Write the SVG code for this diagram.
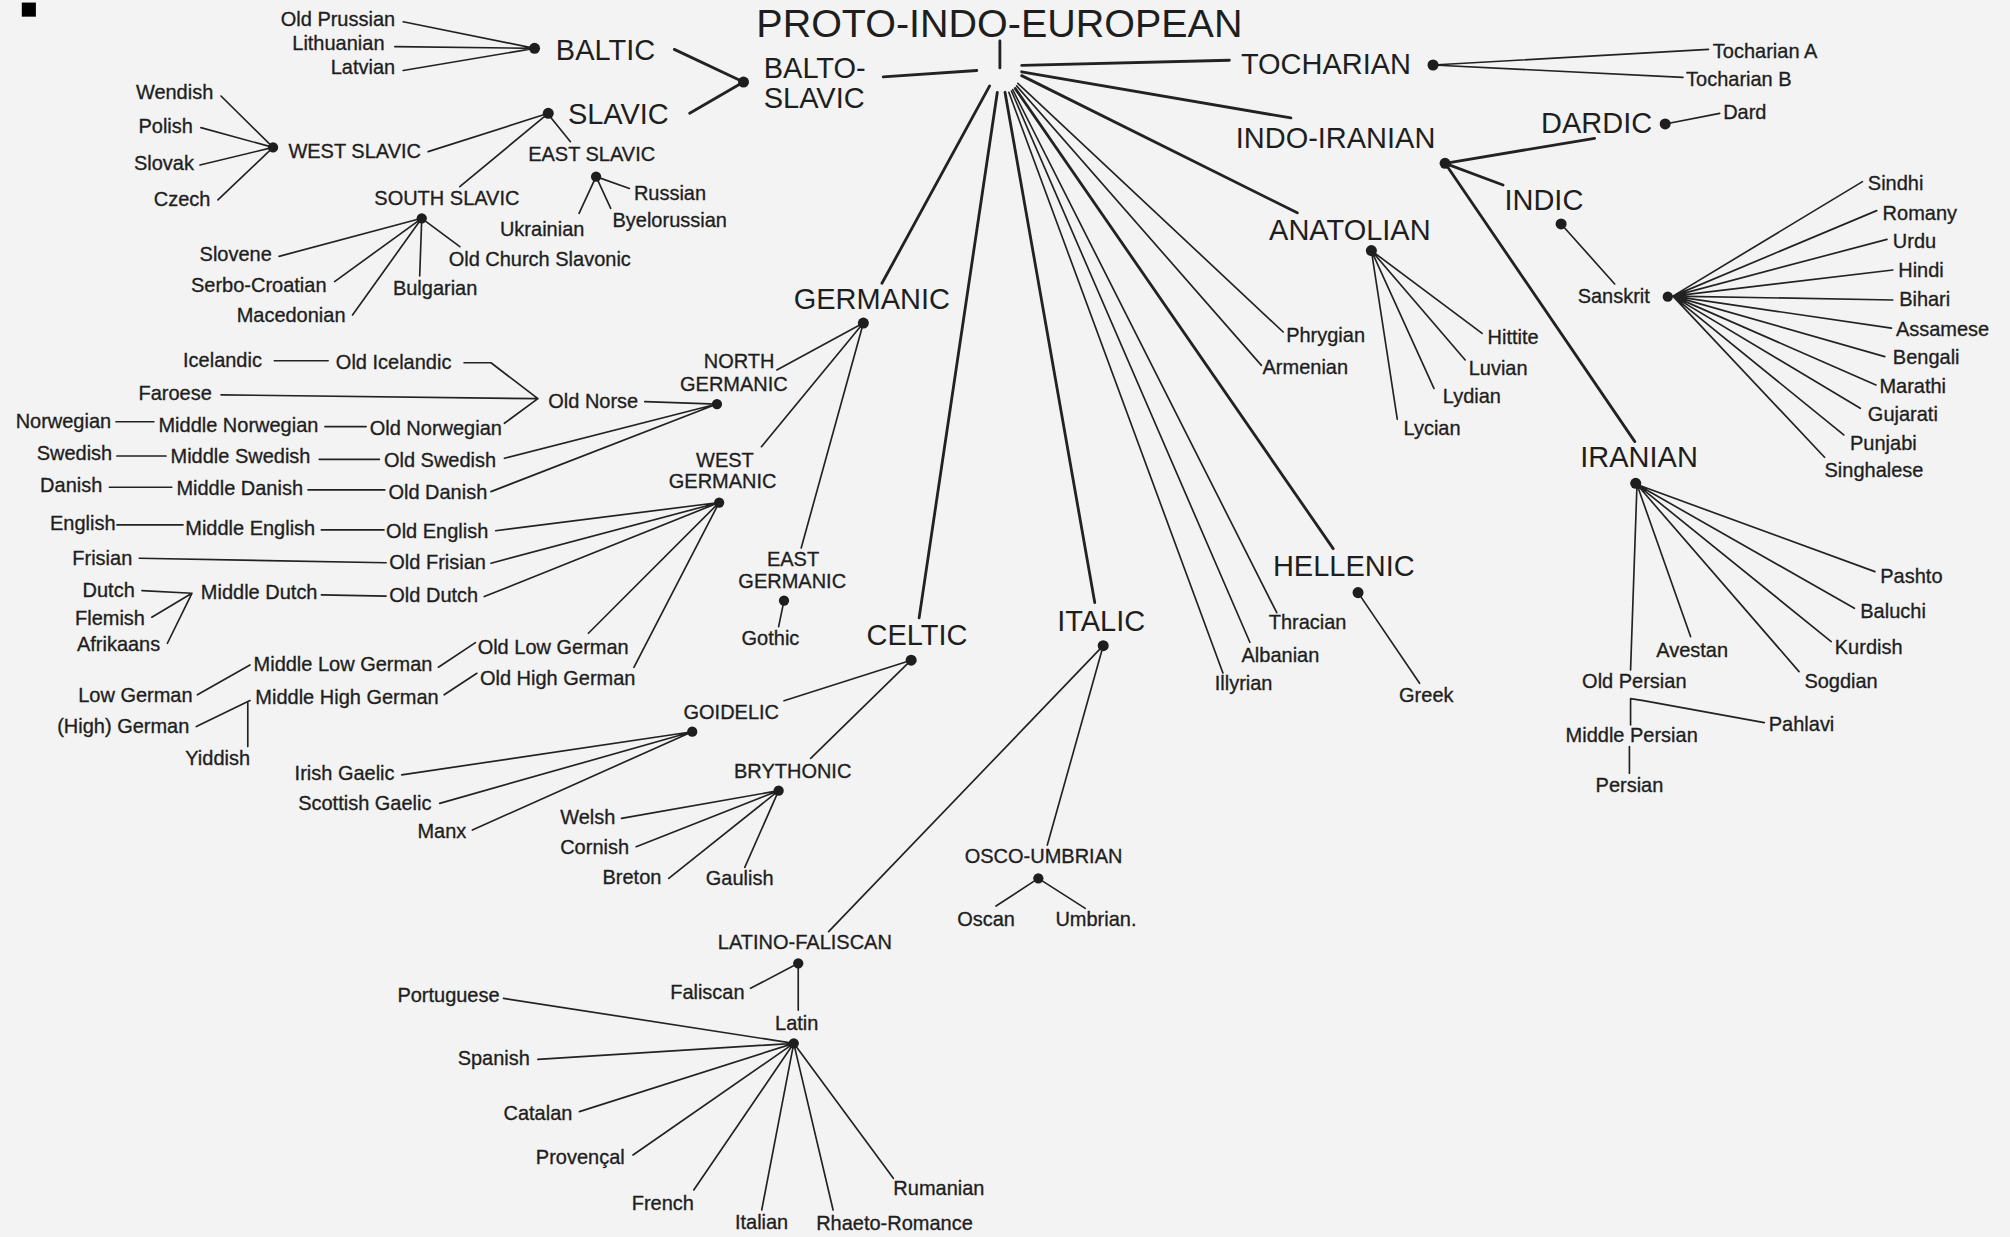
<svg xmlns="http://www.w3.org/2000/svg" width="2010" height="1237" viewBox="0 0 2010 1237">
<style>
text{font-family:"Liberation Sans",Arial,Helvetica,sans-serif;fill:#1e1e1e}
.s{font-size:15.6px;stroke:#1e1e1e;stroke-width:0.25px}
.b{font-size:22.6px}
.t{font-size:30.8px}
#connectors path{fill:none;stroke:#222;stroke-width:1.3;stroke-linecap:round;stroke-linejoin:round}
#connectors path.k{stroke-width:2.2}
circle.d{fill:#1e1e1e}
</style>
<rect width="2010" height="1237" fill="#f3f3f3"/>
<g transform="scale(1.2819)">
<rect x="17" y="2" width="11" height="11" fill="#000"/>
<g id="connectors">
<path class="k" d="M780,32V53"/>
<path class="k" d="M762,55L689,60"/>
<path class="k" d="M797,51L959,47"/>
<path class="k" d="M797,56L1007,92"/>
<path class="k" d="M797,59L1012,166"/>
<path d="M794,65L1001,259"/>
<path d="M793,67L984,285"/>
<path class="k" d="M792,69L1040,428"/>
<path d="M790,70L996,478"/>
<path d="M789,71L975,501"/>
<path d="M787,72L954,525"/>
<path class="k" d="M784,72L854,470"/>
<path class="k" d="M778,72L717,482"/>
<path class="k" d="M772,67L688,221"/>
<path class="k" d="M526,38.5L580,64L538,88.4"/>
<path d="M314.5,17L417,37.7M308,36.4L417,37.7M314.5,55L417,37.7"/>
<path d="M427.7,88.4L334,118.3M427.7,88.4L358.7,145.6M430,92L445,110.5"/>
<path d="M172.4,74.9L213,115M156.7,99.6L213,115M156,128.7L213,115M170,156L213,115"/>
<path d="M465,137.8L491,147M465,137.8L476.4,162.5M465,137.8L451.7,166.4"/>
<path d="M329,170.3L217.7,200M329,170.3L261,219.7M329,170.3L275,245.7M329,170.3L327.4,215.3M329,170.3L358.7,192.4"/>
<path d="M673.5,252L606,288.6M673.5,252L594,348.5M673.5,252L625,427.5M611.6,468.5L607.4,488.8"/>
<path d="M214,281.4H256M362,283H383L419.6,311L393.5,330.2M172.4,308L419.6,311M503,313.3L559.3,315.2M393.5,357.5L559.3,315.2M383,383.5L559.3,315.2"/>
<path d="M90.5,329H120M253.5,332.8H285.6M91.2,355.7H129.5M249,358.3H296M85.3,380.1H134M240.3,382.2H300.2"/>
<path d="M386.6,414L561,392M383,439.4L561,392M377.8,465.4L561,392M459,494L561,392M494.5,520.6L561,392"/>
<path d="M91.2,409.5H142.8M250.7,413.4H299.5M108.6,435.5L301.2,439M110.7,460.7L149.7,462.8L118.4,481.5M149.7,462.8L130.6,501.8M250.7,464.1L301.2,465"/>
<path d="M154,542L195,518.7M342,520.5L370.9,501.3M153.2,566.8L195,546.5M193.3,547.3V582.4M346.5,542L372,525.2"/>
<path d="M710.8,515L611.6,546.6M710.8,515L632.4,591.6M540,570.8L313.4,604.5M540,570.8L343,626.7M540,570.8L368.5,647.5"/>
<path d="M607.4,616.8L484.8,638.4M607.4,616.8L496.3,660.5M607.4,616.8L521.7,685.2M607.4,616.8L581,676.6"/>
<path d="M860.6,503.7L817,659.2M860.6,503.7L646.4,726.8M810,685.2L777,706.8M810,685.2L846.6,708.6M622.7,751.5L585.5,771M622.7,751.5V788"/>
<path d="M619.2,813.9L392.8,778.8M619.2,813.9L419.6,826.4M619.2,813.9L452,867.2M619.2,813.9L493.8,901M619.2,813.9L541.2,928.3M619.2,813.9L594.2,943.9M619.2,813.9L649.9,943.9M619.2,813.9L696.9,919.2"/>
<path d="M1059.4,462.3L1107.4,533"/>
<path d="M1069.8,195.5L1156.2,260M1069.8,195.5L1143,280.8M1069.8,195.5L1118.6,303M1069.8,195.5L1090,327"/>
<path d="M1117.9,50.7L1332.8,38.5M1117.9,50.7L1312.9,60.3"/>
<path class="k" d="M1127.3,127.4L1243.9,107.9M1127.3,127.4L1172.5,144.3M1127.3,127.4L1275.3,344.5"/>
<path d="M1299,96.7L1341.5,88.4M1217.8,174.7L1259.6,221.5"/>
<path d="M1305,231L1452.9,141.7M1305,231L1464,164.3M1305,231L1472,186.7M1305,231L1476.6,210.6M1305,231L1476.6,234M1305,231L1475.5,256M1305,231L1470.3,278.2M1305,231L1463.4,300.3M1305,231L1451.2,318.5M1305,231L1438.3,339.3M1305,231L1423.3,356.7"/>
<path d="M1277,378L1462.6,445.9M1277,378L1446.6,474.5M1277,378L1428.5,500.5M1277,378L1403.4,523.9M1277,378L1318.8,496.6M1277,378L1272,522.6"/>
<path d="M1272,545V565.5M1272,545L1282,546.5L1376.3,563.7M1271.1,582.4V603.2"/>
</g>
<g id="n-pie"><text class="t" x="590" y="28.6">PROTO-INDO-EUROPEAN</text></g>
<g id="n-baltoslavic"><text class="b" x="595.8" y="61">BALTO-</text><text class="b" x="595.8" y="84.5">SLAVIC</text><circle class="d" cx="580" cy="64" r="4.3"/></g>
<g id="n-baltic"><text class="b" x="433.6" y="46.7">BALTIC</text><circle class="d" cx="417" cy="37.7" r="4.3"/></g>
<g id="n-oldprussian"><text class="s" x="219" y="20.5">Old Prussian</text></g>
<g id="n-lithuanian"><text class="s" x="228" y="39">Lithuanian</text></g>
<g id="n-latvian"><text class="s" x="258" y="58">Latvian</text></g>
<g id="n-slavic"><text class="b" x="443" y="96.5">SLAVIC</text><circle class="d" cx="427.7" cy="88.4" r="4.3"/></g>
<g id="n-westslavic"><text class="s" x="225" y="123">WEST SLAVIC</text><circle class="d" cx="213" cy="115" r="4"/></g>
<g id="n-wendish"><text class="s" x="106" y="77">Wendish</text></g>
<g id="n-polish"><text class="s" x="108" y="104">Polish</text></g>
<g id="n-slovak"><text class="s" x="104.5" y="133">Slovak</text></g>
<g id="n-czech"><text class="s" x="120" y="161">Czech</text></g>
<g id="n-eastslavic"><text class="s" x="412" y="125.7">EAST SLAVIC</text><circle class="d" cx="465" cy="137.8" r="4"/></g>
<g id="n-russian"><text class="s" x="494.5" y="155.7">Russian</text></g>
<g id="n-byelorussian"><text class="s" x="477.8" y="177">Byelorussian</text></g>
<g id="n-ukrainian"><text class="s" x="390" y="184">Ukrainian</text></g>
<g id="n-southslavic"><text class="s" x="292" y="160">SOUTH SLAVIC</text><circle class="d" cx="329" cy="170.3" r="4"/></g>
<g id="n-slovene"><text class="s" x="155.7" y="203.5">Slovene</text></g>
<g id="n-serbocroatian"><text class="s" x="149" y="227.5">Serbo-Croatian</text></g>
<g id="n-macedonian"><text class="s" x="184.6" y="251">Macedonian</text></g>
<g id="n-bulgarian"><text class="s" x="306.5" y="230">Bulgarian</text></g>
<g id="n-ocs"><text class="s" x="350" y="207.5">Old Church Slavonic</text></g>
<g id="n-germanic"><text class="b" x="619.2" y="241">GERMANIC</text><circle class="d" cx="673.5" cy="252" r="4.3"/></g>
<g id="n-northgermanic"><text class="s" x="549" y="287">NORTH</text><text class="s" x="530.5" y="305">GERMANIC</text><circle class="d" cx="559.3" cy="315.2" r="4"/></g>
<g id="n-icelandic"><text class="s" x="142.8" y="286">Icelandic</text></g>
<g id="n-oldicelandic"><text class="s" x="262" y="288">Old Icelandic</text></g>
<g id="n-faroese"><text class="s" x="108" y="312">Faroese</text></g>
<g id="n-oldnorse"><text class="s" x="427.7" y="318">Old Norse</text></g>
<g id="n-norwegian"><text class="s" x="12.2" y="334">Norwegian</text></g>
<g id="n-middlenorwegian"><text class="s" x="123.6" y="337">Middle Norwegian</text></g>
<g id="n-oldnorwegian"><text class="s" x="288.4" y="339">Old Norwegian</text></g>
<g id="n-swedish"><text class="s" x="28.6" y="359">Swedish</text></g>
<g id="n-middleswedish"><text class="s" x="133" y="361.5">Middle Swedish</text></g>
<g id="n-oldswedish"><text class="s" x="299.5" y="364">Old Swedish</text></g>
<g id="n-danish"><text class="s" x="31.3" y="383.5">Danish</text></g>
<g id="n-middledanish"><text class="s" x="137.6" y="386">Middle Danish</text></g>
<g id="n-olddanish"><text class="s" x="303" y="389">Old Danish</text></g>
<g id="n-westgermanic"><text class="s" x="543" y="364">WEST</text><text class="s" x="521.7" y="381">GERMANIC</text><circle class="d" cx="561" cy="392" r="4"/></g>
<g id="n-english"><text class="s" x="39" y="413.5">English</text></g>
<g id="n-middleenglish"><text class="s" x="144.5" y="417.5">Middle English</text></g>
<g id="n-oldenglish"><text class="s" x="301.2" y="419.5">Old English</text></g>
<g id="n-frisian"><text class="s" x="56.4" y="441">Frisian</text></g>
<g id="n-oldfrisian"><text class="s" x="303.7" y="443.5">Old Frisian</text></g>
<g id="n-dutch"><text class="s" x="64.4" y="465.5">Dutch</text></g>
<g id="n-middledutch"><text class="s" x="156.7" y="467.5">Middle Dutch</text></g>
<g id="n-olddutch"><text class="s" x="303.7" y="470">Old Dutch</text></g>
<g id="n-flemish"><text class="s" x="58.5" y="487.7">Flemish</text></g>
<g id="n-afrikaans"><text class="s" x="60" y="508">Afrikaans</text></g>
<g id="n-oldlowgerman"><text class="s" x="372.6" y="510">Old Low German</text></g>
<g id="n-middlelowgerman"><text class="s" x="197.8" y="523.5">Middle Low German</text></g>
<g id="n-lowgerman"><text class="s" x="61" y="547.5">Low German</text></g>
<g id="n-oldhighgerman"><text class="s" x="374.4" y="534.5">Old High German</text></g>
<g id="n-middlehighgerman"><text class="s" x="199.2" y="549">Middle High German</text></g>
<g id="n-highgerman"><text class="s" x="44.6" y="571.5">(High) German</text></g>
<g id="n-yiddish"><text class="s" x="144.5" y="596.5">Yiddish</text></g>
<g id="n-eastgermanic"><text class="s" x="598.3" y="441.2">EAST</text><text class="s" x="576" y="459">GERMANIC</text><circle class="d" cx="611.6" cy="468.5" r="4"/></g>
<g id="n-gothic"><text class="s" x="578.5" y="503">Gothic</text></g>
<g id="n-celtic"><text class="b" x="676" y="503.5">CELTIC</text><circle class="d" cx="710.8" cy="515" r="4.3"/></g>
<g id="n-goidelic"><text class="s" x="533.2" y="560.5">GOIDELIC</text><circle class="d" cx="540" cy="570.8" r="4"/></g>
<g id="n-irishgaelic"><text class="s" x="229.8" y="608.5">Irish Gaelic</text></g>
<g id="n-scottishgaelic"><text class="s" x="232.6" y="632">Scottish Gaelic</text></g>
<g id="n-manx"><text class="s" x="325.6" y="654">Manx</text></g>
<g id="n-brythonic"><text class="s" x="572.6" y="606.7">BRYTHONIC</text><circle class="d" cx="607.4" cy="616.8" r="4"/></g>
<g id="n-welsh"><text class="s" x="437" y="642.5">Welsh</text></g>
<g id="n-cornish"><text class="s" x="437" y="666">Cornish</text></g>
<g id="n-breton"><text class="s" x="470" y="689.3">Breton</text></g>
<g id="n-gaulish"><text class="s" x="550.6" y="690.5">Gaulish</text></g>
<g id="n-italic"><text class="b" x="824.7" y="492">ITALIC</text><circle class="d" cx="860.6" cy="503.7" r="4.3"/></g>
<g id="n-oscoumbrian"><text class="s" x="752.6" y="673.5">OSCO-UMBRIAN</text><circle class="d" cx="810" cy="685.2" r="4"/></g>
<g id="n-oscan"><text class="s" x="746.7" y="722">Oscan</text></g>
<g id="n-umbrian"><text class="s" x="823.3" y="722">Umbrian.</text></g>
<g id="n-latinofaliscan"><text class="s" x="560" y="740.3">LATINO-FALISCAN</text><circle class="d" cx="622.7" cy="751.5" r="4"/></g>
<g id="n-faliscan"><text class="s" x="522.8" y="779">Faliscan</text></g>
<g id="n-latin"><text class="s" x="604.6" y="803.6">Latin</text><circle class="d" cx="619.2" cy="813.9" r="4"/></g>
<g id="n-portuguese"><text class="s" x="310" y="782">Portuguese</text></g>
<g id="n-spanish"><text class="s" x="357" y="831">Spanish</text></g>
<g id="n-catalan"><text class="s" x="392.8" y="874">Catalan</text></g>
<g id="n-provencal"><text class="s" x="418" y="907.7">Provençal</text></g>
<g id="n-french"><text class="s" x="492.8" y="944">French</text></g>
<g id="n-italian"><text class="s" x="573.3" y="958.5">Italian</text></g>
<g id="n-rhaetoromance"><text class="s" x="636.7" y="959.8">Rhaeto-Romance</text></g>
<g id="n-rumanian"><text class="s" x="696.9" y="932.3">Rumanian</text></g>
<g id="n-hellenic"><text class="b" x="993" y="449.5">HELLENIC</text><circle class="d" cx="1059.4" cy="462.3" r="4.3"/></g>
<g id="n-greek"><text class="s" x="1091.4" y="547.5">Greek</text></g>
<g id="n-thracian"><text class="s" x="989.7" y="490.3">Thracian</text></g>
<g id="n-albanian"><text class="s" x="968.5" y="516.3">Albanian</text></g>
<g id="n-illyrian"><text class="s" x="947.6" y="538.4">Illyrian</text></g>
<g id="n-phrygian"><text class="s" x="1003.3" y="266.5">Phrygian</text></g>
<g id="n-armenian"><text class="s" x="984.9" y="292">Armenian</text></g>
<g id="n-anatolian"><text class="b" x="990" y="187">ANATOLIAN</text><circle class="d" cx="1069.8" cy="195.5" r="4.3"/></g>
<g id="n-hittite"><text class="s" x="1160.4" y="268">Hittite</text></g>
<g id="n-luvian"><text class="s" x="1145.7" y="292.6">Luvian</text></g>
<g id="n-lydian"><text class="s" x="1125.5" y="314.7">Lydian</text></g>
<g id="n-lycian"><text class="s" x="1094.9" y="339.4">Lycian</text></g>
<g id="n-tocharian"><text class="b" x="968" y="57.5">TOCHARIAN</text><circle class="d" cx="1117.9" cy="50.7" r="4.3"/></g>
<g id="n-tochariana"><text class="s" x="1336.2" y="45.6">Tocharian A</text></g>
<g id="n-tocharianb"><text class="s" x="1315.3" y="66.8">Tocharian B</text></g>
<g id="n-indoiranian"><text class="b" x="964" y="115.5">INDO-IRANIAN</text><circle class="d" cx="1127.3" cy="127.4" r="4.3"/></g>
<g id="n-dardic"><text class="b" x="1202.2" y="103.5">DARDIC</text><circle class="d" cx="1299" cy="96.7" r="4.3"/></g>
<g id="n-dard"><text class="s" x="1344.2" y="93">Dard</text></g>
<g id="n-indic"><text class="b" x="1173.6" y="163.5">INDIC</text><circle class="d" cx="1217.8" cy="174.7" r="4.3"/></g>
<g id="n-sanskrit"><text class="s" x="1230.7" y="236">Sanskrit</text><circle class="d" cx="1301" cy="231.4" r="4"/></g>
<g id="n-sindhi"><text class="s" x="1457.1" y="148.3">Sindhi</text></g>
<g id="n-romany"><text class="s" x="1468.6" y="171.8">Romany</text></g>
<g id="n-urdu"><text class="s" x="1476.6" y="193.8">Urdu</text></g>
<g id="n-hindi"><text class="s" x="1480.8" y="215.8">Hindi</text></g>
<g id="n-bihari"><text class="s" x="1481.5" y="238.5">Bihari</text></g>
<g id="n-assamese"><text class="s" x="1479" y="261.8">Assamese</text></g>
<g id="n-bengali"><text class="s" x="1476.6" y="284.3">Bengali</text></g>
<g id="n-marathi"><text class="s" x="1466.1" y="306.8">Marathi</text></g>
<g id="n-gujarati"><text class="s" x="1457.1" y="328.8">Gujarati</text></g>
<g id="n-punjabi"><text class="s" x="1443.2" y="351">Punjabi</text></g>
<g id="n-singhalese"><text class="s" x="1423.3" y="371.8">Singhalese</text></g>
<g id="n-iranian"><text class="b" x="1232.8" y="364">IRANIAN</text><circle class="d" cx="1276" cy="377" r="4.3"/></g>
<g id="n-pashto"><text class="s" x="1466.8" y="455">Pashto</text></g>
<g id="n-baluchi"><text class="s" x="1451.2" y="482.4">Baluchi</text></g>
<g id="n-kurdish"><text class="s" x="1431.3" y="509.8">Kurdish</text></g>
<g id="n-sogdian"><text class="s" x="1407.6" y="537">Sogdian</text></g>
<g id="n-avestan"><text class="s" x="1292" y="512.3">Avestan</text></g>
<g id="n-oldpersian"><text class="s" x="1234.2" y="536.5">Old Persian</text></g>
<g id="n-pahlavi"><text class="s" x="1379.8" y="570.3">Pahlavi</text></g>
<g id="n-middlepersian"><text class="s" x="1221.3" y="578.6">Middle Persian</text></g>
<g id="n-persian"><text class="s" x="1244.7" y="617.6">Persian</text></g>
</g>
</svg>
